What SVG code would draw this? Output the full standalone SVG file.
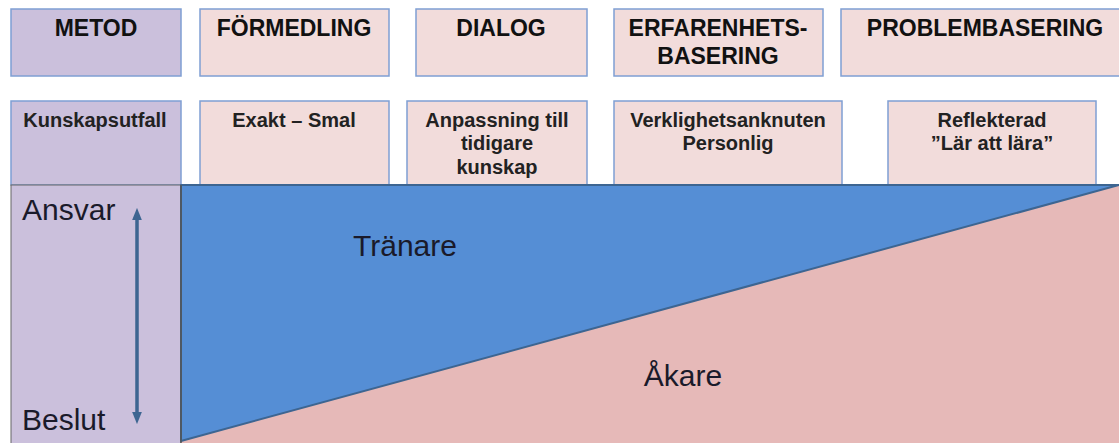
<svg xmlns="http://www.w3.org/2000/svg" width="1119" height="443" viewBox="0 0 1119 443">
<style>
.box{stroke:#7f9fd3;stroke-width:1.5}
.purple{fill:#cbc0dc}
.pink{fill:#f2dcdb}
.h{font-family:"Liberation Sans",Arial,sans-serif;font-weight:bold;font-size:23px;fill:#111;text-anchor:middle}
.s{font-family:"Liberation Sans",Arial,sans-serif;font-weight:bold;font-size:20px;fill:#222;text-anchor:middle}
.big{font-family:"Liberation Sans",Arial,sans-serif;font-size:30px;fill:#1a1a2a}
</style>
<defs>
<marker id="ah" viewBox="0 0 10 10" refX="5" refY="5" markerWidth="3.5" markerHeight="3.5" orient="auto-start-reverse">
<path d="M0,1 L10,5 L0,9 Z" fill="#3d6591"/>
</marker>
</defs>
<rect width="1119" height="443" fill="#fff"/>
<g id="metod"><rect class="box purple" x="11" y="9" width="170" height="67"/><text class="h" x="96" y="36">METOD</text></g>
<g id="formedling"><rect class="box pink" x="200" y="9" width="189" height="67"/><text class="h" x="294" y="36">FÖRMEDLING</text></g>
<g id="dialog"><rect class="box pink" x="416" y="9" width="171" height="67"/><text class="h" x="501" y="36">DIALOG</text></g>
<g id="erfarenhet"><rect class="box pink" x="614" y="9" width="209" height="67"/><text class="h" x="718" y="36">ERFARENHETS-</text><text class="h" x="718" y="64">BASERING</text></g>
<g id="problem"><rect class="box pink" x="841" y="9" width="290" height="67"/><text class="h" x="985" y="36">PROBLEMBASERING</text></g>
<g id="kunskap"><rect class="box purple" x="11" y="101" width="170" height="84"/><text class="s" x="95" y="127">Kunskapsutfall</text></g>
<g id="exakt"><rect class="box pink" x="200" y="101" width="189" height="84"/><text class="s" x="294" y="127">Exakt – Smal</text></g>
<g id="anpassning"><rect class="box pink" x="407" y="101" width="180" height="84"/><text class="s" x="497" y="127">Anpassning till</text><text class="s" x="497" y="150">tidigare</text><text class="s" x="497" y="174">kunskap</text></g>
<g id="verklighet"><rect class="box pink" x="614" y="101" width="228" height="84"/><text class="s" x="728" y="127">Verklighetsanknuten</text><text class="s" x="728" y="150">Personlig</text></g>
<g id="reflekterad"><rect class="box pink" x="888" y="101" width="208" height="84"/><text class="s" x="992" y="127">Reflekterad</text><text class="s" x="992" y="150">”Lär att lära”</text></g>
<g id="axis">
<rect x="11" y="185" width="170" height="260" fill="#cbc0dc" stroke="#666" stroke-width="1"/>
<text class="big" x="22" y="220">Ansvar</text>
<text class="big" x="22" y="430">Beslut</text>
</g>
<g id="areas">
<polygon points="181,185 1119,185 1119,443 181,443" fill="#e6b9b8"/>
<polygon points="181,185 1119,185 181,441" fill="#558ed5" stroke="#3d6591" stroke-width="2" stroke-linejoin="round"/>
<line x1="181" y1="185" x2="181" y2="443" stroke="#555" stroke-width="1.5"/>
<text class="big" x="405" y="256" text-anchor="middle">Tränare</text>
<text class="big" x="683" y="386" text-anchor="middle">Åkare</text>
</g>
<g id="connectors">
<line x1="137" y1="214" x2="137" y2="418" stroke="#3d6591" stroke-width="3.5" marker-start="url(#ah)" marker-end="url(#ah)"/>
</g>
</svg>
